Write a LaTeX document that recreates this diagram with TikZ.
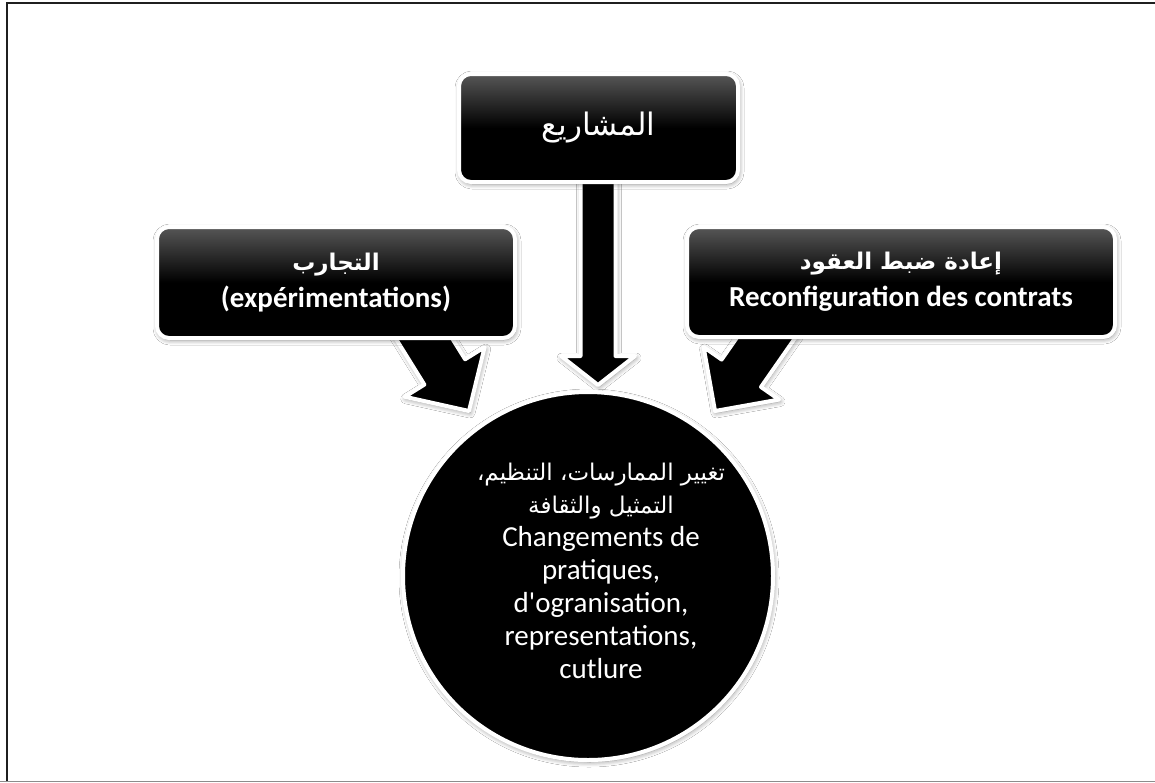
\documentclass[tikz,border=0pt]{standalone}
\usepackage{fontspec}
\setmainfont{Carlito}
\newfontfamily\arabicfont[Script=Arabic]{DejaVu Sans}
\TeXXeTstate=1
\usetikzlibrary{shapes.geometric,calc,shadows.blur}

% block arrow from a tail to a tip: #3 half shaft width, #4 half head width, #5 head length
\newcommand\blockarrow[5]{%
  \coordinate (ba-base) at ($(#2)!#5!(#1)$);
  \draw[arrowbody]
    ($(#1)!#3!90:(#2)$) -- ($(ba-base)!#3!90:(#2)$) -- ($(ba-base)!#4!90:(#2)$)
    -- (#2)
    -- ($(ba-base)!#4!-90:(#2)$) -- ($(ba-base)!#3!-90:(#2)$) -- ($(#1)!#3!-90:(#2)$)
    -- cycle;
}

\tikzset{
  softshadow/.style={blur shadow={shadow blur steps=10, shadow xshift=1pt,
      shadow yshift=-2pt, shadow opacity=45, shadow blur radius=5pt}},
  glossbox/.style={draw=white, line width=4pt, rounded corners=12pt,
      top color=black!66!white, bottom color=black, middle color=black,
      text=white, align=center, inner sep=0pt, softshadow},
  arrowbody/.style={draw=white, line width=4pt, line join=round, fill=black, softshadow},
  bubble/.style={ellipse, draw=white, line width=4pt, fill=black, inner sep=0pt, softshadow},
  boxfont/.style={font=\fontsize{29}{37}\selectfont},
}

\begin{document}
\begin{tikzpicture}[x=1pt,y=-1pt]
  \useasboundingbox (0,0) rectangle (1155,782);
  \fill[white] (0,0) rectangle (1155,782);

  % page frame
  \draw[line width=2pt, black!88] (7,782) -- (7,2.5) -- (1155,2.5);
  \draw[line width=1.2pt, black!45] (0,781.4) -- (1155,781.4);

  % arrow ends
  \coordinate (tailT) at (598,150);
  \coordinate (tipT) at (598,385);
  \coordinate (tailL) at (405,308);
  \coordinate (tipL) at (469,411);
  \coordinate (tailR) at (784,312);
  \coordinate (tipR) at (715,411);

  % block arrows (drawn first, their tails sit under the boxes)
  \blockarrow{tailT}{tipT}{17.5pt}{37pt}{29pt}
  \blockarrow{tailL}{tipL}{24pt}{47pt}{46pt}
  \blockarrow{tailR}{tipR}{24pt}{46pt}{46pt}

  % source boxes
  \node[glossbox, minimum width=279, minimum height=108,
        font=\fontsize{31}{40}\selectfont] (proj) at (598.5,128)
    {\raisebox{-3pt}{\arabicfont\beginR المشاريع\endR}};

  \node[glossbox, boxfont, minimum width=358, minimum height=111] (exp) at (336,282.5)
    {{\arabicfont\bfseries\fontsize{23}{37}\selectfont\beginR التجارب\endR}\\{\bfseries (expérimentations)}};

  \node[glossbox, boxfont, minimum width=428, minimum height=110] (rec) at (901,282)
    {{\arabicfont\bfseries\fontsize{23}{37}\selectfont\beginR إعادة ضبط العقود\endR}\\{\bfseries Reconfiguration des contrats}};

  % result bubble
  \node[bubble, minimum width=370, minimum height=368] (chg) at (588,576) {};
  \node[text=white, align=center, inner sep=0pt, font=\fontsize{29}{33}\selectfont] (chgtext) at (601,571)
    {{\arabicfont\fontsize{23}{33}\selectfont\beginR تغيير الممارسات، التنظيم،\endR}\\
     {\arabicfont\fontsize{23}{33}\selectfont\beginR التمثيل والثقافة\endR}\\
     Changements de\\
     pratiques,\\
     d\textquotesingle ogranisation,\\
     representations,\\
     cutlure};
\end{tikzpicture}
\end{document}
